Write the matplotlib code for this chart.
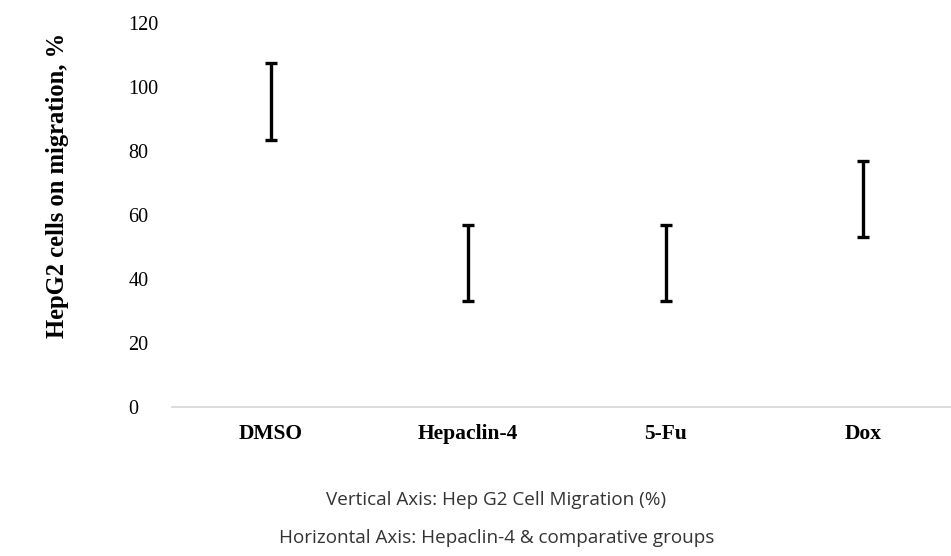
import matplotlib
matplotlib.use("Agg")
import matplotlib.pyplot as plt

categories = ["DMSO", "Hepaclin-4", "5-Fu", "Dox"]
means = [95.5, 45.0, 45.0, 65.0]
errors = [12.0, 12.0, 12.0, 12.0]
yticks = [0, 20, 40, 60, 80, 100, 120]
ylabel = "HepG2 cells on migration, %"
footer1 = "Vertical Axis: Hep G2 Cell Migration (%)"
footer2 = "Horizontal Axis: Hepaclin-4 & comparative groups"

W, H = 951, 556
dpi = 100
fig = plt.figure(figsize=(W / dpi, H / dpi), dpi=dpi)
fig.patch.set_facecolor("white")

left_px, right_px = 172, 962
bottom_px, top_px = 407, 23
ax = fig.add_axes([left_px / W, 1 - bottom_px / H,
                   (right_px - left_px) / W, (bottom_px - top_px) / H])
ax.set_facecolor("none")

x = list(range(len(categories)))
ax.errorbar(x, means, yerr=errors, fmt="none", ecolor="black",
            elinewidth=2.4, capsize=4.5, capthick=2.4, zorder=3)

ax.set_xlim(-0.5, len(categories) - 0.5)
ax.set_ylim(0, 120)
ax.set_yticks(yticks)
ax.set_yticklabels([str(v) for v in yticks], fontfamily="Liberation Serif",
                   fontsize=14.5, ha="left")
ax.tick_params(axis="y", length=0, pad=31.5)
ax.set_xticks(x)
ax.set_xticklabels(categories, fontfamily="Liberation Serif", fontsize=15.5,
                   fontweight="bold")
ax.tick_params(axis="x", length=0, pad=12)

for s in ["top", "right", "left"]:
    ax.spines[s].set_visible(False)
ax.spines["bottom"].set_color("#d9d9d9")
ax.spines["bottom"].set_linewidth(1.3)

fig.text(58 / W, 1 - 185 / H, ylabel, rotation=90, ha="center", va="center",
         fontfamily="Liberation Serif", fontsize=17.7, fontweight="bold")

fig.text(496 / W, 1 - 500 / H, footer1, ha="center", va="center",
         fontfamily="Open Sans", fontsize=13.6, color="#333333")
fig.text(497 / W, 1 - 538 / H, footer2, ha="center", va="center",
         fontfamily="Open Sans", fontsize=13.6, color="#333333")

fig.savefig("out.png", dpi=dpi, facecolor="white")
